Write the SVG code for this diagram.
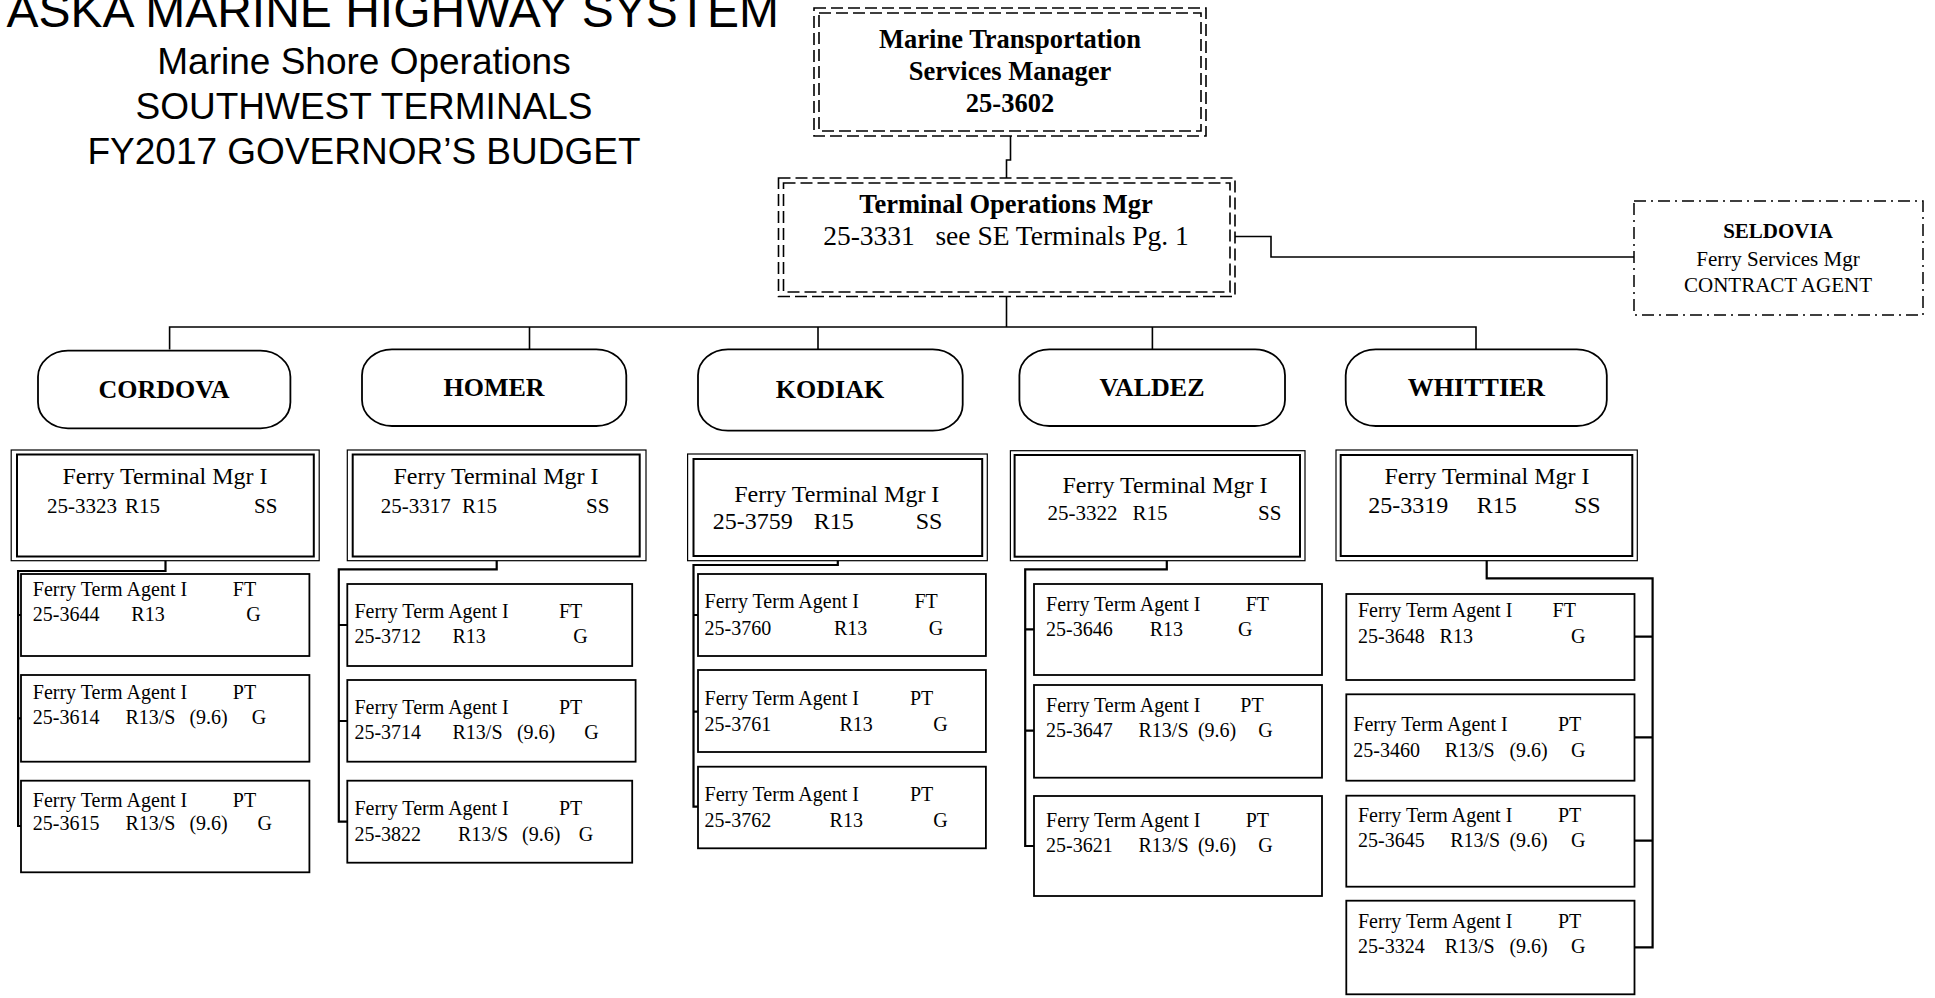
<svg xmlns="http://www.w3.org/2000/svg" width="1935" height="998" viewBox="0 0 1935 998">
<style>
.title{font-family:"Liberation Sans",Arial,sans-serif;fill:#000}
.s{font-family:"Liberation Serif","Times New Roman",serif;fill:#000}
.b{font-weight:bold}
.m{text-anchor:middle}
.dash{fill:none;stroke:#000;stroke-width:1.6;stroke-dasharray:12 5}
.dashdot{fill:none;stroke:#000;stroke-width:1.5;stroke-dasharray:12 5 2 5}
.pill{fill:#fff;stroke:#000;stroke-width:1.8}
.outer{fill:none;stroke:#000;stroke-width:1.2}
.inner{fill:none;stroke:#000;stroke-width:2}
.box{fill:#fff;stroke:#000;stroke-width:1.8}
.conn{fill:none;stroke:#000;stroke-width:1.6}
.conn2{fill:none;stroke:#000;stroke-width:2.2}
.mg{font-size:24px}
.mn{font-size:21px}
.ag{font-size:20px}
.loc{font-size:26px;font-weight:bold}
</style>
<rect width="1935" height="998" fill="#fff"/>
<g id="title">
<text class="title" x="779" y="27" font-size="48" text-anchor="end">ASKA MARINE HIGHWAY SYSTEM</text>
<text class="title" x="364" y="74" font-size="37" text-anchor="middle">Marine Shore Operations</text>
<text class="title" x="364" y="119" font-size="37" text-anchor="middle">SOUTHWEST TERMINALS</text>
<text class="title" x="364" y="164" font-size="37" text-anchor="middle">FY2017 GOVERNOR’S BUDGET</text>
</g>
<g id="connectors">
<path class="conn" d="M1010.5,136 V160 H1006.5 V178"/>
<path class="conn" d="M1006.5,296.5 V327"/>
<path class="conn" d="M1235,236.5 H1271 V257 H1634"/>
<path class="conn" d="M169.6,349.5 V327 H1476 V349.5"/>
<path class="conn" d="M529.5,327 V349.5 M818,327 V349.5 M1152.4,327 V349.5"/>
<path class="conn2" d="M165.5,560.7 V571 H18.1 V826 H21 M18.1,615 H21 M18.1,718.3 H21"/>
<path class="conn2" d="M496.7,560.7 V569.3 H338.8 V821.7 H347.3 M338.8,625 H347.3 M338.8,721 H347.3"/>
<path class="conn2" d="M837.8,560.7 V565 H693.5 V806.7 H698 M693.5,615 H698 M693.5,711.7 H698"/>
<path class="conn2" d="M1166.8,560.7 V569.3 H1025.2 V846 H1034 M1025.2,629.3 H1034 M1025.2,730.7 H1034"/>
<path class="conn2" d="M1486.7,560.7 V578.3 H1652.6 V947.3 H1634.5 M1652.6,636.7 H1634.5 M1652.6,737.3 H1634.5 M1652.6,840.7 H1634.5"/>
</g>
<g id="mtsm">
<rect class="dash" x="814" y="8" width="392" height="128"/>
<rect class="dash" x="819" y="13" width="382" height="118"/>
<text class="s b m" x="1010" y="48" font-size="26.5">Marine Transportation</text>
<text class="s b m" x="1010" y="80" font-size="26.5">Services Manager</text>
<text class="s b m" x="1010" y="112" font-size="26.5">25-3602</text>
</g>
<g id="tom">
<rect class="dash" x="778.5" y="178" width="456.5" height="118.5"/>
<rect class="dash" x="783.5" y="183" width="446.5" height="109"/>
<text class="s b m" x="1006" y="213" font-size="26.5">Terminal Operations Mgr</text>
<text class="s m" x="1006" y="245" font-size="27.5" xml:space="preserve">25-3331   see SE Terminals Pg. 1</text>
</g>
<g id="seldovia">
<rect class="dashdot" x="1634" y="201" width="289" height="114"/>
<text class="s b m" x="1778" y="238" font-size="21">SELDOVIA</text>
<text class="s m" x="1778" y="266" font-size="21">Ferry Services Mgr</text>
<text class="s m" x="1778" y="292" font-size="21">CONTRACT AGENT</text>
</g>
<g id="cordova">
<rect class="pill" x="38" y="350.7" width="252.4" height="77.6" rx="30" ry="26"/>
<text class="s loc m" x="164" y="398.3">CORDOVA</text>
</g>
<g id="homer">
<rect class="pill" x="362" y="349.3" width="264.3" height="76.7" rx="30" ry="26"/>
<text class="s loc m" x="494" y="395.7">HOMER</text>
</g>
<g id="kodiak">
<rect class="pill" x="698" y="349.3" width="264.7" height="81.4" rx="30" ry="26"/>
<text class="s loc m" x="830" y="398.3">KODIAK</text>
</g>
<g id="valdez">
<rect class="pill" x="1019.4" y="349.3" width="265.6" height="76.7" rx="30" ry="26"/>
<text class="s loc m" x="1152" y="395.7">VALDEZ</text>
</g>
<g id="whittier">
<rect class="pill" x="1345.7" y="349.3" width="261.1" height="76.7" rx="30" ry="26"/>
<text class="s loc m" x="1476.5" y="395.7">WHITTIER</text>
</g>
<g id="mgr-cordova">
<rect class="outer" x="11.2" y="450" width="308" height="110.7"/>
<rect class="inner" x="17" y="454.5" width="296.8" height="102"/>
<text class="s mg m" x="165" y="484">Ferry Terminal Mgr I</text>
<text class="s mn" y="512.7"><tspan x="46.9">25-3323</tspan><tspan x="125">R15</tspan><tspan x="254">SS</tspan></text>
</g>
<g id="mgr-homer">
<rect class="outer" x="347.3" y="450" width="298.7" height="110.7"/>
<rect class="inner" x="352.7" y="454.5" width="287" height="102"/>
<text class="s mg m" x="496" y="484">Ferry Terminal Mgr I</text>
<text class="s mn" y="512.7"><tspan x="380.8">25-3317</tspan><tspan x="462">R15</tspan><tspan x="586">SS</tspan></text>
</g>
<g id="mgr-kodiak">
<rect class="outer" x="687.6" y="454" width="299.7" height="106.7"/>
<rect class="inner" x="693.5" y="459" width="288.7" height="97"/>
<text class="s mg m" x="836.8" y="501.7">Ferry Terminal Mgr I</text>
<text class="s mg" y="529.3"><tspan x="712.8">25-3759</tspan><tspan x="813.8">R15</tspan><tspan x="915.7">SS</tspan></text>
</g>
<g id="mgr-valdez">
<rect class="outer" x="1010.4" y="450.7" width="294.6" height="110"/>
<rect class="inner" x="1014.6" y="455" width="285.4" height="101.7"/>
<text class="s mg m" x="1165" y="493.3">Ferry Terminal Mgr I</text>
<text class="s mn" y="520"><tspan x="1047.4">25-3322</tspan><tspan x="1132.5">R15</tspan><tspan x="1258">SS</tspan></text>
</g>
<g id="mgr-whittier">
<rect class="outer" x="1336" y="450" width="301.3" height="110.7"/>
<rect class="inner" x="1340.7" y="455" width="291.6" height="101"/>
<text class="s mg m" x="1487" y="484">Ferry Terminal Mgr I</text>
<text class="s mg" y="512.7"><tspan x="1368.3">25-3319</tspan><tspan x="1476.7">R15</tspan><tspan x="1574">SS</tspan></text>
</g>
<g id="cordova-3644">
<rect class="box" x="21" y="574" width="288.4" height="82"/>
<text class="s ag" y="596"><tspan x="32.8">Ferry Term Agent I</tspan><tspan x="232.8">FT</tspan></text>
<text class="s ag" y="621"><tspan x="32.8">25-3644</tspan><tspan x="131.3">R13</tspan><tspan x="246.2">G</tspan></text>
</g>
<g id="cordova-3614">
<rect class="box" x="21" y="675" width="288.4" height="86.7"/>
<text class="s ag" y="699"><tspan x="32.8">Ferry Term Agent I</tspan><tspan x="232.8">PT</tspan></text>
<text class="s ag" y="724.3"><tspan x="32.8">25-3614</tspan><tspan x="125.4">R13/S</tspan><tspan x="189.4">(9.6)</tspan><tspan x="251.7">G</tspan></text>
</g>
<g id="cordova-3615">
<rect class="box" x="21" y="780.7" width="288.4" height="91.6"/>
<text class="s ag" y="806.7"><tspan x="32.8">Ferry Term Agent I</tspan><tspan x="232.8">PT</tspan></text>
<text class="s ag" y="829.7"><tspan x="32.8">25-3615</tspan><tspan x="125.4">R13/S</tspan><tspan x="189.4">(9.6)</tspan><tspan x="257.6">G</tspan></text>
</g>
<g id="homer-3712">
<rect class="box" x="347.3" y="584" width="284.9" height="82"/>
<text class="s ag" y="618.3"><tspan x="354.4">Ferry Term Agent I</tspan><tspan x="559">FT</tspan></text>
<text class="s ag" y="643.3"><tspan x="354.4">25-3712</tspan><tspan x="452.5">R13</tspan><tspan x="573.3">G</tspan></text>
</g>
<g id="homer-3714">
<rect class="box" x="347.3" y="680" width="288.3" height="81.7"/>
<text class="s ag" y="714"><tspan x="354.4">Ferry Term Agent I</tspan><tspan x="559">PT</tspan></text>
<text class="s ag" y="739.3"><tspan x="354.4">25-3714</tspan><tspan x="452.5">R13/S</tspan><tspan x="516.9">(9.6)</tspan><tspan x="584.2">G</tspan></text>
</g>
<g id="homer-3822">
<rect class="box" x="347.3" y="780.7" width="284.9" height="82"/>
<text class="s ag" y="815"><tspan x="354.4">Ferry Term Agent I</tspan><tspan x="559">PT</tspan></text>
<text class="s ag" y="840.7"><tspan x="354.4">25-3822</tspan><tspan x="458">R13/S</tspan><tspan x="522">(9.6)</tspan><tspan x="578.8">G</tspan></text>
</g>
<g id="kodiak-3760">
<rect class="box" x="698" y="574" width="287.9" height="82"/>
<text class="s ag" y="608.3"><tspan x="704.6">Ferry Term Agent I</tspan><tspan x="914.4">FT</tspan></text>
<text class="s ag" y="635"><tspan x="704.6">25-3760</tspan><tspan x="834">R13</tspan><tspan x="928.7">G</tspan></text>
</g>
<g id="kodiak-3761">
<rect class="box" x="698" y="670" width="287.9" height="82"/>
<text class="s ag" y="705"><tspan x="704.6">Ferry Term Agent I</tspan><tspan x="910">PT</tspan></text>
<text class="s ag" y="730.7"><tspan x="704.6">25-3761</tspan><tspan x="839.5">R13</tspan><tspan x="933.2">G</tspan></text>
</g>
<g id="kodiak-3762">
<rect class="box" x="698" y="766.7" width="287.9" height="81.6"/>
<text class="s ag" y="800.7"><tspan x="704.6">Ferry Term Agent I</tspan><tspan x="910">PT</tspan></text>
<text class="s ag" y="826.7"><tspan x="704.6">25-3762</tspan><tspan x="829.6">R13</tspan><tspan x="933.2">G</tspan></text>
</g>
<g id="valdez-3646">
<rect class="box" x="1034" y="584" width="288" height="91"/>
<text class="s ag" y="610.7"><tspan x="1046.1">Ferry Term Agent I</tspan><tspan x="1245.7">FT</tspan></text>
<text class="s ag" y="636"><tspan x="1046.1">25-3646</tspan><tspan x="1149.7">R13</tspan><tspan x="1238">G</tspan></text>
</g>
<g id="valdez-3647">
<rect class="box" x="1034" y="685" width="288" height="92.7"/>
<text class="s ag" y="711.7"><tspan x="1046.1">Ferry Term Agent I</tspan><tspan x="1240.3">PT</tspan></text>
<text class="s ag" y="737.3"><tspan x="1046.1">25-3647</tspan><tspan x="1138.5">R13/S</tspan><tspan x="1197.9">(9.6)</tspan><tspan x="1258.2">G</tspan></text>
</g>
<g id="valdez-3621">
<rect class="box" x="1034" y="796" width="288" height="100"/>
<text class="s ag" y="826.7"><tspan x="1046.1">Ferry Term Agent I</tspan><tspan x="1245.7">PT</tspan></text>
<text class="s ag" y="851.7"><tspan x="1046.1">25-3621</tspan><tspan x="1138.5">R13/S</tspan><tspan x="1197.9">(9.6)</tspan><tspan x="1258.2">G</tspan></text>
</g>
<g id="whittier-3648">
<rect class="box" x="1346.3" y="594" width="288.2" height="86"/>
<text class="s ag" y="617.3"><tspan x="1358">Ferry Term Agent I</tspan><tspan x="1552.6">FT</tspan></text>
<text class="s ag" y="642.7"><tspan x="1358">25-3648</tspan><tspan x="1439.6">R13</tspan><tspan x="1571">G</tspan></text>
</g>
<g id="whittier-3460">
<rect class="box" x="1346.3" y="694.3" width="288.2" height="86.4"/>
<text class="s ag" y="730.7"><tspan x="1353.3">Ferry Term Agent I</tspan><tspan x="1558">PT</tspan></text>
<text class="s ag" y="756.7"><tspan x="1353.3">25-3460</tspan><tspan x="1444.7">R13/S</tspan><tspan x="1509.4">(9.6)</tspan><tspan x="1571">G</tspan></text>
</g>
<g id="whittier-3645">
<rect class="box" x="1346.3" y="795.7" width="288.2" height="91"/>
<text class="s ag" y="821.7"><tspan x="1358">Ferry Term Agent I</tspan><tspan x="1558">PT</tspan></text>
<text class="s ag" y="846.7"><tspan x="1358">25-3645</tspan><tspan x="1450.2">R13/S</tspan><tspan x="1509.4">(9.6)</tspan><tspan x="1571">G</tspan></text>
</g>
<g id="whittier-3324">
<rect class="box" x="1346.3" y="900.7" width="288.2" height="93.6"/>
<text class="s ag" y="928.3"><tspan x="1358">Ferry Term Agent I</tspan><tspan x="1558">PT</tspan></text>
<text class="s ag" y="953.3"><tspan x="1358">25-3324</tspan><tspan x="1444.7">R13/S</tspan><tspan x="1509.4">(9.6)</tspan><tspan x="1571">G</tspan></text>
</g>
</svg>
